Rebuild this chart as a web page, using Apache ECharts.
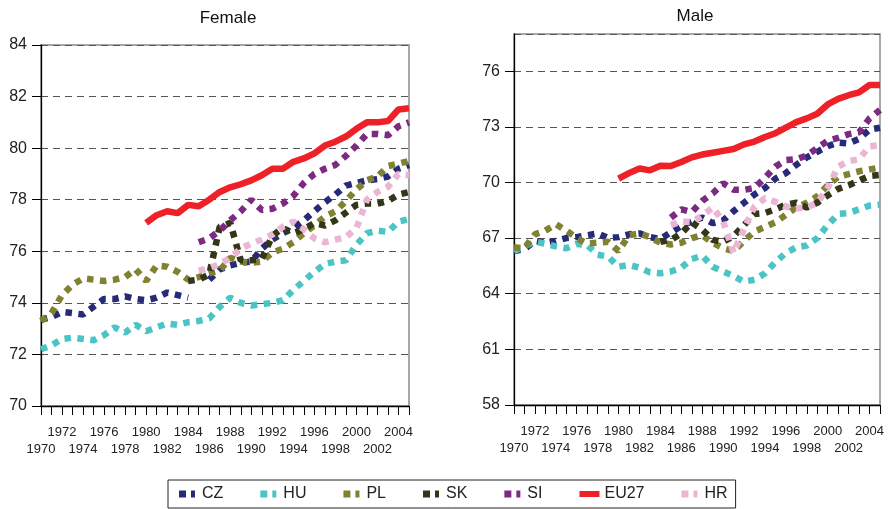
<!DOCTYPE html>
<html>
<head>
<meta charset="utf-8">
<title>Life expectancy, Female / Male</title>
<script src="https://cdn.jsdelivr.net/npm/echarts@6/dist/echarts.min.js"></script>
<style>
  html, body { margin: 0; padding: 0; background: #fff; }
  #chart { width: 890px; height: 509px; }
</style>
</head>
<body>
<div id="chart"></div>
<script>
var years = ['1970','1971','1972','1973','1974','1975','1976','1977','1978','1979',
             '1980','1981','1982','1983','1984','1985','1986','1987','1988','1989',
             '1990','1991','1992','1993','1994','1995','1996','1997','1998','1999',
             '2000','2001','2002','2003','2004','2005'];

var names = ['CZ', 'HU', 'PL', 'SK', 'SI', 'EU27', 'HR'];

// Female
var czF = [73.35, 73.45, 73.65, 73.6, 73.55, 73.85, 74.15, 74.15, 74.25, 74.15,
           74.1, 74.2, 74.4, 74.3, 74.2, null, 74.9, 75.3, 75.45, 75.55,
           75.6, 76.1, 76.45, 76.7, 76.9, 77.2, 77.55, 77.9, 78.2, 78.55,
           78.65, 78.75, 78.8, 78.9, 79.2, 79.35];
var huF = [72.2, 72.35, 72.6, 72.65, 72.6, 72.55, 72.75, 73.05, 72.85, 73.15,
           72.9, 73.05, 73.2, 73.15, 73.25, 73.3, 73.4, 73.85, 74.2, 74.0,
           73.9, 73.95, 74.0, 74.1, 74.5, 74.85, 75.2, 75.5, 75.6, 75.65,
           76.25, 76.7, 76.8, 76.75, 77.15, 77.25];
var plF = [73.3, 73.6, 74.3, 74.7, 74.95, 74.9, 74.85, 74.9, 75.0, 75.3,
           74.85, 75.45, 75.4, 75.2, 74.9, 75.0, 75.15, 75.25, 75.75, 75.6,
           75.55, 75.6, 75.95, 76.1, 76.35, 76.7, 77.0, 77.35, 77.55, 77.95,
           78.4, 78.75, 78.9, 79.3, 79.4, 79.5];
var skF = [null, null, null, null, null, null, null, null, null, null,
           null, null, null, null, 74.85, 74.9, 75.1, 76.95, 77.1, 75.65,
           75.65, 75.7, 76.6, 76.9, 76.7, 76.85, 77.1, 77.0, 77.2, 77.5,
           77.8, 77.85, 77.85, 77.95, 78.2, 78.3];
var siF = [null, null, null, null, null, null, null, null, null, null,
           null, null, null, null, null, 76.35, 76.5, 76.8, 77.2, 77.55,
           78.0, 77.6, 77.65, 77.85, 78.15, 78.65, 79.0, 79.2, 79.35, 79.7,
           80.1, 80.55, 80.55, 80.5, 80.85, 81.0];
var euF = [null, null, null, null, null, null, null, null, null, null,
           77.1, 77.4, 77.55, 77.48, 77.8, 77.75, 78.0, 78.3, 78.48, 78.6,
           78.75, 78.95, 79.2, 79.2, 79.47, 79.6, 79.8, 80.1, 80.25, 80.45,
           80.75, 81.0, 81.0, 81.05, 81.5, 81.55];
var hrF = [null, null, null, null, null, null, null, null, null, null,
           null, null, null, null, null, 75.25, 75.35, 75.5, 75.75, 76.1,
           76.3, 76.45, 76.65, 76.95, 77.15, 76.85, 76.5, 76.35, 76.45, 76.55,
           76.9, 78.0, 78.3, 78.5, 79.0, 78.95];

// Male
var czM = [66.3, 66.4, 66.85, 66.75, 66.85, 67.0, 67.05, 67.15, 67.25, 67.0,
           67.05, 67.2, 67.25, 67.05, 66.95, 67.3, 67.65, 67.9, 68.1, 67.8,
           67.95, 68.45, 68.9, 69.35, 69.7, 70.2, 70.5, 70.95, 71.35, 71.65,
           71.95, 72.15, 72.1, 72.35, 72.85, 72.95];
var huM = [66.3, 66.55, 66.8, 66.7, 66.55, 66.45, 66.68, 66.62, 66.1, 66.0,
           65.45, 65.55, 65.4, 65.15, 65.1, 65.2, 65.4, 65.87, 66.05, 65.45,
           65.2, 64.95, 64.65, 64.75, 65.1, 65.7, 66.2, 66.5, 66.6, 67.0,
           67.7, 68.3, 68.35, 68.55, 68.75, 68.8];
var plM = [66.5, 66.45, 67.2, 67.4, 67.75, 67.4, 67.0, 66.7, 66.75, 66.8,
           66.3, 67.15, 67.25, 67.05, 66.75, 66.65, 66.75, 67.0, 67.15, 66.75,
           66.45, 66.3, 66.85, 67.35, 67.6, 67.85, 68.25, 68.65, 68.9, 69.25,
           69.85, 70.3, 70.45, 70.6, 70.7, 70.8];
var skM = [null, null, null, null, null, null, null, null, null, null,
           null, null, null, null, 66.8, 66.9, 67.25, 67.85, 67.45, 66.9,
           66.8, 67.1, 67.7, 68.3, 68.35, 68.55, 68.8, 68.9, 68.65, 68.9,
           69.3, 69.65, 69.85, 70.1, 70.35, 70.4];
var siM = [null, null, null, null, null, null, null, null, null, null,
           null, null, null, null, null, 68.1, 68.55, 68.4, 69.0, 69.4,
           69.95, 69.6, 69.6, 69.7, 70.25, 70.85, 71.2, 71.25, 71.45, 71.85,
           72.25, 72.4, 72.6, 72.7, 73.45, 73.9];
var euM = [null, null, null, null, null, null, null, null, null, null,
           70.2, 70.5, 70.75, 70.65, 70.9, 70.88, 71.1, 71.35, 71.5, 71.6,
           71.7, 71.8, 72.05, 72.2, 72.45, 72.65, 72.95, 73.25, 73.45, 73.7,
           74.2, 74.5, 74.7, 74.85, 75.25, 75.25];
var hrM = [null, null, null, null, null, null, null, null, null, null,
           null, null, null, null, null, 67.7, 67.9, 67.85, 68.2, 68.65,
           67.9, 66.2, 67.5, 68.7, 69.15, 68.95, 68.7, 68.6, 68.65, 68.9,
           69.7, 70.85, 71.15, 71.25, 71.95, 72.0];

var colors = {
    CZ: '#262a78', HU: '#4bc4c6', PL: '#808232', SK: '#343618',
    SI: '#7d2b82', EU27: '#ee2128', HR: '#ebb5d4'
};
var female = { CZ: czF, HU: huF, PL: plF, SK: skF, SI: siF, EU27: euF, HR: hrF };
var male = { CZ: czM, HU: huM, PL: plM, SK: skM, SI: siM, EU27: euM, HR: hrM };

var font = '"Liberation Sans", Arial, sans-serif';

// legend icons: two squares for the dotted lines, a bar for EU27
var dotIcon = 'path://M0,0H7V7H0Z M12,0H16V7H12Z';
var barIcon = 'path://M0,0H20V6H0Z';

function makeX(gridIndex) {
    return {
        type: 'category',
        gridIndex: gridIndex,
        data: years,
        boundaryGap: false,
        axisLine: { lineStyle: { color: '#000', width: 1.3 } },
        axisTick: { show: true, interval: 0, length: 9, lineStyle: { color: '#000', width: 1 } },
        axisLabel: {
            interval: 0,
            margin: 18,
            fontSize: 13,
            lineHeight: 17,
            color: '#222',
            fontFamily: font,
            formatter: function (v) {
                var y = parseInt(v, 10);
                if ((y - 1970) % 4 === 0) return '\n' + v;
                if ((y - 1972) % 4 === 0) return v;
                return '';
            }
        },
        splitLine: { show: false }
    };
}

function makeY(gridIndex, min, max, step) {
    return {
        type: 'value',
        gridIndex: gridIndex,
        min: min,
        max: max,
        interval: step,
        axisLine: { show: true, lineStyle: { color: '#000', width: 1.3 } },
        axisTick: { show: true, length: 9, lineStyle: { color: '#000', width: 1 } },
        axisLabel: { fontSize: 16, color: '#222', margin: 14, fontFamily: font, showMaxLabel: (max - min) % step === 0 },
        splitLine: { show: true, lineStyle: { color: '#555', width: 1.2, type: [7, 5] } }
    };
}

var series = [];
[female, male].forEach(function (set, g) {
    names.forEach(function (n) {
        var solid = n === 'EU27';
        series.push({
            name: n,
            type: 'line',
            xAxisIndex: g,
            yAxisIndex: g,
            data: set[n],
            showSymbol: false,
            symbol: 'none',
            connectNulls: false,
            animation: false,
            color: colors[n],
            lineStyle: {
                color: colors[n],
                width: 6.5,
                type: solid ? 'solid' : [6.5, 6.5],
                cap: 'butt'
            }
        });
    });
});

var chart = echarts.init(document.getElementById('chart'));
chart.setOption({
    animation: false,
    backgroundColor: '#fff',
    textStyle: { fontFamily: font },
    graphic: [
        { type: 'text', x: 228, y: 18, style: { text: 'Female', font: '17px ' + font, align: 'center', verticalAlign: 'middle', fill: '#111' } },
        { type: 'text', x: 695, y: 16, style: { text: 'Male', font: '17px ' + font, align: 'center', verticalAlign: 'middle', fill: '#111' } }
    ],
    grid: [
        { left: 41, top: 45, right: 481, bottom: 103, show: true, borderColor: '#8a8a8a', borderWidth: 1.5, backgroundColor: 'transparent' },
        { left: 514, top: 34, right: 10, bottom: 104, show: true, borderColor: '#8a8a8a', borderWidth: 1.5, backgroundColor: 'transparent' }
    ],
    xAxis: [makeX(0), makeX(1)],
    yAxis: [makeY(0, 70, 84, 2), makeY(1, 58, 78, 3)],
    legend: {
        data: names.map(function (n) {
            return { name: n, icon: n === 'EU27' ? barIcon : dotIcon };
        }),
        left: 168,
        top: 480,
        orient: 'horizontal',
        padding: [6, 8, 6, 11],
        borderColor: '#222',
        borderWidth: 1,
        itemWidth: 20,
        itemHeight: 7,
        itemGap: 37,
        textStyle: { fontSize: 16, color: '#222', fontFamily: font }
    },
    series: series
});
</script>
</body>
</html>
